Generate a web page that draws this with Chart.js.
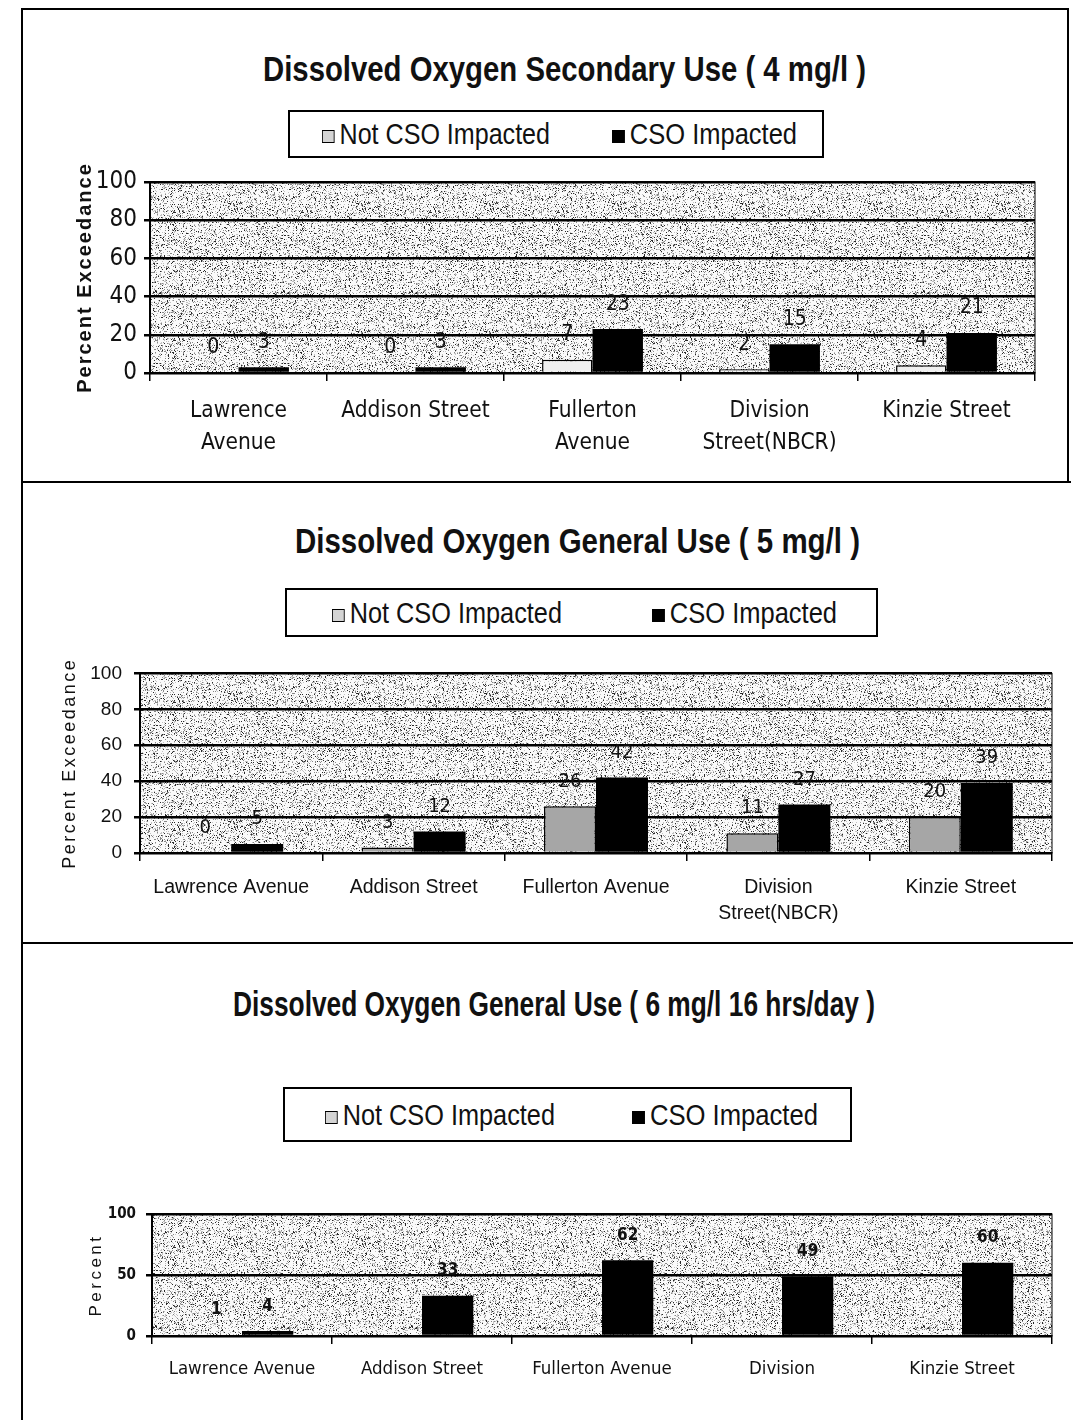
<!DOCTYPE html>
<html lang="en">
<head>
<meta charset="UTF-8">
<title>Dissolved Oxygen Percent Exceedance</title>
<style>
  body { margin: 0; background: #fff; width: 1073px; height: 1420px; position: relative; overflow: hidden;
         font-family: 'Liberation Sans', Arial, sans-serif; color: #111; }
  .rule { position: absolute; background: #000; }
  .title { position: absolute; white-space: nowrap; font-weight: bold; font-size: 35px; line-height: 1; transform-origin: left center; }
  .legend { position: absolute; border: 2px solid #000; box-sizing: border-box; background: #fff; font-size: 30px; }
  .legend .item { position: absolute; top: 50%; white-space: nowrap; line-height: 1; transform-origin: left center; }
  .sw { display: inline-block; width: 15px; height: 13px; box-sizing: border-box; border: 1.5px solid #000; margin-right: 6px; vertical-align: 1px; }
  .sw.light { background: #d4d4d4; }
  .sw.dark { background: #000; }
  canvas { position: absolute; }
</style>
</head>
<body>

<!-- page frame -->
<div class="rule" style="left:21px; top:8px; width:2px; height:1412px;"></div>
<div class="rule" style="left:21px; top:8px; width:1048px; height:2px;"></div>
<div class="rule" style="left:1067px; top:8px; width:2px; height:475px;"></div>
<div class="rule" style="left:21px; top:481px; width:1050px; height:2px;"></div>
<div class="rule" style="left:21px; top:942px; width:1052px; height:2px;"></div>

<div class="title" data-w="603" style="left:263px; top:51px;">Dissolved Oxygen Secondary Use ( 4 mg/l )</div>
<div class="legend" style="left:288px; top:110px; width:536px; height:48px;">
  <span class="item" data-w="228" style="left:32px;"><span class="sw light"></span>Not CSO Impacted</span>
  <span class="item" data-w="185" style="left:322px;"><span class="sw dark"></span>CSO Impacted</span>
</div>
<canvas id="chart1" width="1035" height="310" style="left:30px; top:160px;"></canvas>

<div class="title" data-w="565" style="left:295px; top:523px;">Dissolved Oxygen General Use ( 5 mg/l )</div>
<div class="legend" style="left:285px; top:588px; width:593px; height:49px;">
  <span class="item" data-w="230" style="left:45px;"><span class="sw light"></span>Not CSO Impacted</span>
  <span class="item" data-w="185" style="left:365px;"><span class="sw dark"></span>CSO Impacted</span>
</div>
<canvas id="chart2" width="1035" height="285" style="left:30px; top:650px;"></canvas>

<div class="title" data-w="642" style="left:233px; top:986px;">Dissolved Oxygen General Use ( 6 mg/l 16 hrs/day )</div>
<div class="legend" style="left:283px; top:1087px; width:569px; height:55px;">
  <span class="item" data-w="230" style="left:40px;"><span class="sw light"></span>Not CSO Impacted</span>
  <span class="item" data-w="186" style="left:347px;"><span class="sw dark"></span>CSO Impacted</span>
</div>
<canvas id="chart3" width="1035" height="200" style="left:30px; top:1195px;"></canvas>

<script src="https://cdn.jsdelivr.net/npm/chart.js"></script>
<script>
  // site labels for each panel
  const sites4 = [['Lawrence', 'Avenue'], 'Addison Street', ['Fullerton', 'Avenue'], ['Division', 'Street(NBCR)'], 'Kinzie Street'];
  const sites5 = ['Lawrence Avenue', 'Addison Street', 'Fullerton Avenue', ['Division', 'Street(NBCR)'], 'Kinzie Street'];
  const sites6 = ['Lawrence Avenue', 'Addison Street', 'Fullerton Avenue', 'Division', 'Kinzie Street'];

  // percent exceedance values
  const notCso4 = [0, 0, 7, 2, 4];
  const cso4 = [3, 3, 23, 15, 21];
  const notCso5 = [0, 3, 26, 11, 20];
  const cso5 = [5, 12, 42, 27, 39];
  const notCso6 = [1, null, null, null, null];
  const cso6 = [4, 33, 62, 49, 60];

  // y axis steps
  const yMax = 100;
  const step4 = 20, step5 = 20, step6 = 50;

  const COND = "'DejaVu Sans Condensed', sans-serif";
  const REGULAR = "'Liberation Sans', Arial, sans-serif";

  // squeeze the html text to the narrow widths of the original
  document.querySelectorAll('[data-w]').forEach(el => {
    const w = el.getBoundingClientRect().width;
    const s = Number(el.dataset.w) / w;
    el.style.transform = (el.classList.contains('item') ? 'translateY(-50%) ' : '') + 'scaleX(' + s + ')';
  });

  // stippled plot area like the scan
  function makeStipple() {
    const c = document.createElement('canvas');
    c.width = 128; c.height = 128;
    const g = c.getContext('2d');
    const img = g.createImageData(128, 128);
    for (let y = 0; y < 128; y++) {
      for (let x = 0; x < 128; x++) {
        let h = (x * 374761393 + y * 668265263) | 0;
        h = Math.imul(h ^ (h >>> 13), 1274126177);
        const v = ((h ^ (h >>> 16)) >>> 0) / 4294967295;
        const shade = v < 0.07 ? 40 : v < 0.17 ? 135 : v < 0.27 ? 195 : 250;
        const i = (y * 128 + x) * 4;
        img.data[i] = img.data[i + 1] = img.data[i + 2] = shade;
        img.data[i + 3] = 255;
      }
    }
    g.putImageData(img, 0, 0);
    return c;
  }
  const stippleTile = makeStipple();

  const plotBackground = {
    id: 'plotBackground',
    beforeDraw(chart) {
      const {ctx, chartArea: a} = chart;
      ctx.save();
      ctx.fillStyle = ctx.createPattern(stippleTile, 'repeat');
      ctx.fillRect(a.left, a.top, a.right - a.left, a.bottom - a.top);
      ctx.restore();
    },
    afterDatasetsDraw(chart) {
      const {ctx, chartArea: a} = chart;
      ctx.save();
      ctx.strokeStyle = '#000';
      ctx.lineWidth = 1;
      ctx.strokeRect(a.left, a.top, a.right - a.left, a.bottom - a.top);
      ctx.restore();
    }
  };

  const valueLabels = {
    id: 'valueLabels',
    afterDatasetsDraw(chart, args, opts) {
      const {ctx} = chart;
      ctx.save();
      ctx.fillStyle = '#111';
      ctx.font = opts.font;
      ctx.textAlign = 'center';
      ctx.textBaseline = 'middle';
      chart.data.datasets.forEach((ds, di) => {
        chart.getDatasetMeta(di).data.forEach((bar, i) => {
          if (ds.data[i] === null) return;
          ctx.fillText(String(ds.data[i]), bar.x, bar.y - opts.offset);
        });
      });
      ctx.restore();
    }
  };

  // rotated, letter-spaced y axis title
  const axisTitle = {
    id: 'axisTitle',
    afterDraw(chart, args, opts) {
      const {ctx, chartArea: a} = chart;
      ctx.save();
      ctx.translate(opts.x, (a.top + a.bottom) / 2);
      ctx.rotate(-Math.PI / 2);
      ctx.font = opts.font;
      ctx.letterSpacing = opts.spacing;
      ctx.fillStyle = '#111';
      ctx.textAlign = 'center';
      ctx.textBaseline = 'middle';
      ctx.fillText(opts.text, 0, 0);
      ctx.restore();
    }
  };

  function buildChart(id, cfg) {
    const ctx = document.getElementById(id).getContext('2d');
    return new Chart(ctx, {
      type: 'bar',
      data: {
        labels: cfg.labels,
        datasets: [
          {
            label: 'Not CSO Impacted',
            data: cfg.notCso,
            backgroundColor: cfg.lightFill,
            borderColor: '#000',
            borderWidth: 1.5
          },
          {
            label: 'CSO Impacted',
            data: cfg.cso,
            backgroundColor: '#000',
            borderWidth: 0
          }
        ]
      },
      options: {
        responsive: false,
        animation: false,
        events: [],
        layout: { padding: { left: 0, right: cfg.padRight, top: cfg.padTop, bottom: 0 } },
        datasets: { bar: { categoryPercentage: 0.57, barPercentage: 1.0 } },
        plugins: {
          legend: { display: false },
          tooltip: { enabled: false },
          valueLabels: { font: cfg.valueFont, offset: 25 },
          axisTitle: cfg.yTitle
        },
        scales: {
          x: {
            afterFit(scale) { scale.height = cfg.xHeight; },
            grid: { drawOnChartArea: false, drawTicks: true, tickLength: 8, color: '#000', lineWidth: 1.5 },
            border: { display: true, color: '#000', width: 2 },
            ticks: {
              color: '#111',
              padding: cfg.xPad,
              maxRotation: 0,
              autoSkip: false,
              font: cfg.xFont
            }
          },
          y: {
            min: 0,
            max: yMax,
            afterFit(scale) { scale.width = cfg.yWidth; },
            grid: { color: '#000', lineWidth: 2.5, drawTicks: true, tickLength: 6 },
            border: { display: true, color: '#000', width: 2 },
            ticks: { stepSize: cfg.step, color: '#111', padding: cfg.yPad, font: cfg.yFont }
          }
        }
      },
      plugins: [plotBackground, valueLabels, axisTitle]
    });
  }

  buildChart('chart1', {
    labels: sites4, notCso: notCso4, cso: cso4, step: step4,
    lightFill: '#efefef',
    padRight: 30, padTop: 22, yWidth: 120, xHeight: 97,
    xPad: 14, yPad: 7,
    xFont: { family: COND, size: 22.5, lineHeight: 1.42 },
    yFont: { family: COND, size: 24 },
    yTitle: { text: 'Percent Exceedance', font: 'bold 20px ' + REGULAR, spacing: '2px', x: 55 },
    valueFont: '21px ' + COND
  });

  buildChart('chart2', {
    labels: sites5, notCso: notCso5, cso: cso5, step: step5,
    lightFill: '#a6a6a6',
    padRight: 13, padTop: 18, yWidth: 110, xHeight: 82,
    xPad: 14, yPad: 12,
    xFont: { family: REGULAR, size: 19.5, lineHeight: 1.33 },
    yFont: { family: REGULAR, size: 19 },
    yTitle: { text: 'Percent Exceedance', font: '18px ' + REGULAR, spacing: '2.5px', x: 40 },
    valueFont: '20px ' + COND
  });

  buildChart('chart3', {
    labels: sites6, notCso: notCso6, cso: cso6, step: step6,
    lightFill: '#c9c9c9',
    padRight: 13, padTop: 17, yWidth: 122, xHeight: 59,
    xPad: 13, yPad: 10,
    xFont: { family: COND, size: 18.5, lineHeight: 1.3 },
    yFont: { family: COND, size: 15, weight: 'bold' },
    yTitle: { text: 'Percent', font: '17px ' + REGULAR, spacing: '3.5px', x: 66 },
    valueFont: 'bold 17px ' + COND
  });
</script>

</body>
</html>
